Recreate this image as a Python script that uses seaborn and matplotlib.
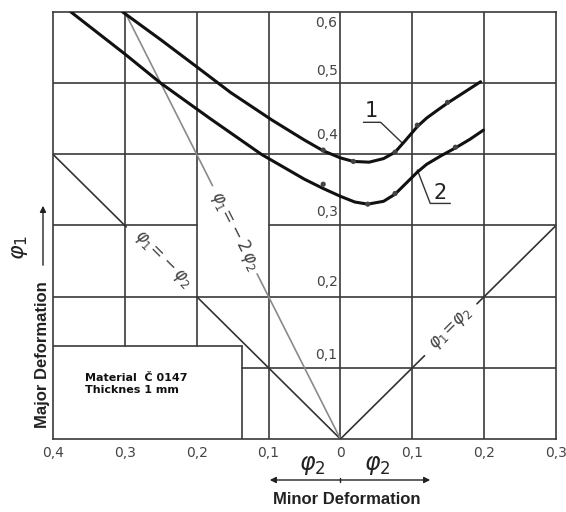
import numpy as np
import pandas as pd
import matplotlib
matplotlib.use("Agg")
import matplotlib.pyplot as plt
import seaborn as sns

# forming limit curves (phi2 signed: left side negative)
curve1_phi2 = [-0.303, -0.25, -0.20, -0.153, -0.095, -0.05, -0.024, 0.0, 0.018, 0.04, 0.06, 0.076, 0.09, 0.107, 0.12, 0.135, 0.149, 0.172, 0.195]
curve1_phi1 = [0.600, 0.561, 0.523, 0.487, 0.448, 0.420, 0.405, 0.395, 0.390, 0.389, 0.394, 0.403, 0.419, 0.439, 0.451, 0.462, 0.472, 0.487, 0.502]
curve2_phi2 = [-0.375, -0.30, -0.25, -0.181, -0.11, -0.05, -0.024, 0.0, 0.02, 0.038, 0.06, 0.076, 0.092, 0.107, 0.12, 0.14, 0.16, 0.18, 0.199]
curve2_phi1 = [0.600, 0.541, 0.500, 0.450, 0.400, 0.365, 0.352, 0.341, 0.333, 0.330, 0.334, 0.344, 0.360, 0.375, 0.386, 0.398, 0.409, 0.421, 0.434]

# measured points
pts1_phi2 = [-0.024, 0.018, 0.076, 0.107, 0.149]
pts1_phi1 = [0.406, 0.390, 0.403, 0.441, 0.473]
pts2_phi2 = [-0.024, 0.038, 0.076, 0.160]
pts2_phi1 = [0.358, 0.330, 0.345, 0.410]

xtick_pos = [-0.4, -0.3, -0.2, -0.1, 0.0, 0.1, 0.2, 0.3]
xtick_lab = ["0,4", "0,3", "0,2", "0,1", "0", "0,1", "0,2", "0,3"]
ytick_pos = [0.584, 0.517, 0.427, 0.319, 0.220, 0.118]
ytick_lab = ["0,6", "0,5", "0,4", "0,3", "0,2", "0,1"]

sns.set_style("white")
plt.rcParams['mathtext.fontset'] = 'dejavusans'

fig = plt.figure(figsize=(5.66, 5.12), dpi=100)
ax = fig.add_axes([53/566, 1-439/512, (556-53)/566, (439-12)/512])
ax.set_xlim(-0.4, 0.3)
ax.set_ylim(0, 0.6)

grid_c = '#3a3a3a'
# irregular grid of the original nomogram
hsegs = [(0.5, -0.4, 0.3), (0.4, -0.4, 0.3), (0.3, -0.4, -0.2), (0.3, -0.1, 0.3),
         (0.2, -0.4, 0.3), (0.13, -0.4, -0.137), (0.1, -0.137, 0.3)]
vsegs = [(-0.3, 0.13, 0.6), (-0.2, 0.13, 0.6), (-0.137, 0.0, 0.13),
         (-0.1, 0.0, 0.6), (0.0, 0.0, 0.6), (0.1, 0.0, 0.6), (0.2, 0.0, 0.6)]
for y, x0, x1 in hsegs:
    ax.plot([x0, x1], [y, y], color=grid_c, lw=1.2, zorder=1)
for x, y0, y1 in vsegs:
    ax.plot([x, x], [y0, y1], color=grid_c, lw=1.2, zorder=1)

# strain path lines with gaps for the labels
ax.plot([-0.4, -0.298], [0.4, 0.298], color='#333333', lw=1.2)
ax.plot([-0.2, 0.0], [0.2, 0.0], color='#333333', lw=1.2)
ax.plot([-0.3, -0.178], [0.6, 0.356], color='#8a8a8a', lw=1.2)
ax.plot([-0.116, 0.0], [0.232, 0.0], color='#8a8a8a', lw=1.2)
ax.plot([0.0, 0.117], [0.0, 0.117], color='#333333', lw=1.2)
ax.plot([0.19, 0.3], [0.19, 0.3], color='#333333', lw=1.2)

phi_font = dict(fontsize=12, color='#444444', ha='center', va='center')
ax.text(-0.248, 0.252, r'$\varphi_1\!=\!-\varphi_2$', rotation=-45, **phi_font)
ax.text(-0.147, 0.292, r'$\varphi_1\!=\!-2\,\varphi_2$', rotation=-63, **phi_font)
ax.text(0.155, 0.155, r'$\varphi_1\!=\!\varphi_2$', rotation=45, **phi_font)

# curves
df1 = pd.DataFrame({'phi2': curve1_phi2, 'phi1': curve1_phi1})
df2 = pd.DataFrame({'phi2': curve2_phi2, 'phi1': curve2_phi1})
sns.lineplot(data=df1, x='phi2', y='phi1', sort=False, estimator=None, color='#111111', lw=2.2, ax=ax, zorder=3)
sns.lineplot(data=df2, x='phi2', y='phi1', sort=False, estimator=None, color='#111111', lw=2.2, ax=ax, zorder=3)
sns.scatterplot(x=pts1_phi2, y=pts1_phi1, color='#444444', s=14, edgecolor='none', ax=ax, zorder=4)
sns.scatterplot(x=pts2_phi2, y=pts2_phi1, color='#444444', s=14, edgecolor='none', ax=ax, zorder=4)

# curve labels with leaders
ax.text(0.043, 0.461, '1', fontsize=15, ha='center', va='center', color='#222222')
ax.plot([0.032, 0.056, 0.086], [0.445, 0.445, 0.416], color='#333333', lw=1.0)
ax.text(0.139, 0.345, '2', fontsize=15, ha='center', va='center', color='#222222')
ax.plot([0.107, 0.125, 0.153], [0.378, 0.331, 0.331], color='#333333', lw=1.0)

# inner y values
for yp, lab in zip(ytick_pos, ytick_lab):
    ax.text(-0.004, yp, lab, fontsize=10, ha='right', va='center', color='#444444')

# material box
ax.text(-0.355, 0.077, 'Material  \u010c 0147\nThicknes 1 mm', fontsize=8, fontweight='bold',
        ha='left', va='center', linespacing=1.3, color='#111111')

ax.set_xticks(xtick_pos)
ax.set_xticklabels(xtick_lab, fontsize=10, color='#444444')
ax.set_yticks([])
ax.tick_params(axis='x', length=0, pad=5)
ax.set_xlabel('')
ax.set_ylabel('')
for sp in ax.spines.values():
    sp.set_color(grid_c)
    sp.set_linewidth(1.2)

# axis titles outside the frame
fig.text(43/566, 1-355/512, 'Major Deformation', rotation=90, fontsize=12, fontweight='bold',
         family='Liberation Sans', ha='center', va='center', color='#222222')
fig.text(20/566, 1-247/512, r'$\varphi_1$', rotation=90, fontsize=16, ha='center', va='center', color='#222222')
fig.add_artist(matplotlib.patches.FancyArrowPatch((43/566, 1-268/512), (43/566, 1-203/512),
               transform=fig.transFigure, arrowstyle='-|>', mutation_scale=9, color='#222222', lw=1.0))

fig.text(312/566, 1-465/512, r'$\varphi_2$', fontsize=17, ha='center', va='center', color='#222222')
fig.text(377/566, 1-465/512, r'$\varphi_2$', fontsize=17, ha='center', va='center', color='#222222')
fig.add_artist(matplotlib.patches.FancyArrowPatch((267/566, 1-480/512), (433/566, 1-480/512),
               transform=fig.transFigure, arrowstyle='<|-|>', mutation_scale=9, color='#222222', lw=1.0))
fig.add_artist(matplotlib.lines.Line2D([340/566, 340/566], [1-478/512, 1-482/512],
               transform=fig.transFigure, color='#222222', lw=1.0))
fig.text(347/566, 1-500/512, 'Minor Deformation', fontsize=12, fontweight='bold',
         family='Liberation Sans', ha='center', va='center', color='#222222')

fig.savefig('out.png', dpi=100)
